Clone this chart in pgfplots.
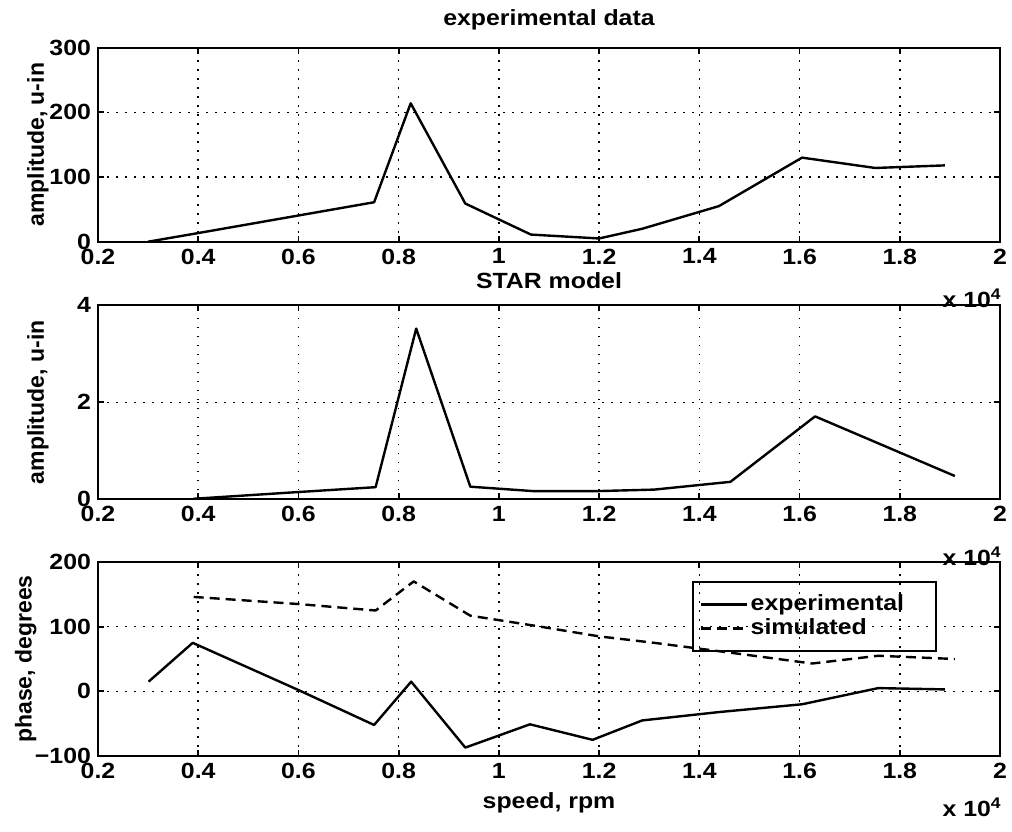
\documentclass[border=0pt]{standalone}
\usepackage{fontspec}
\setmainfont{Liberation Sans}[FakeStretch=1.13]
\newfontfamily\rotfont{Liberation Sans}
\usepackage{pgfplots}
\pgfplotsset{compat=1.18}
\newcommand{\ff}{\fontsize{11}{13}\selectfont\bfseries}
\newcommand{\rf}{\rotfont\fontsize{11.5}{13}\selectfont\bfseries}
\pgfplotsset{
  mat/.style={
    scale only axis, width=451pt, height=97pt,
    xmin=0.2, xmax=2,
    xtick={0.2,0.4,0.6,0.8,1,1.2,1.4,1.6,1.8,2},
    xticklabels={0.2,0.4,0.6,0.8,1,1.2,1.4,1.6,1.8,2},
    scaled x ticks=false, scaled y ticks=false,
    grid=major,
    major grid style={black, line width=0.8pt, dash pattern=on 0.8pt off 3.7pt},
    axis line style={black, line width=1pt},
    tick style={black, line width=0.9pt},
    major tick length=3pt,
    tick align=inside,
    font=\ff,
    tick label style={font=\ff},
    /pgf/number format/assume math mode=true,
    clip=false,
  },
  ln/.style={black, line width=1.2pt, line join=round, mark=none},
}
\begin{document}
\begin{tikzpicture}
\path[use as bounding box] (0,0) rectangle (506pt,415.5pt);
% ---------- top ----------
\begin{axis}[mat, at={(49pt,294.65pt)}, anchor=south west,
  ymin=0, ymax=300, ytick={0,100,200,300}]
\addplot[ln] coordinates {(0.30,0) (0.39,12) (0.751,61) (0.824,214) (0.933,59) (1.064,11) (1.2,5) (1.286,20) (1.439,55) (1.605,130) (1.751,114) (1.89,118)};
\node[anchor=base, yshift=11.25pt] at (axis description cs:0.5,1) {experimental data};
\node[rotate=90, anchor=center, font=\rf] at (axis description cs:-0.0665,0.5) {amplitude, u-in};
\node[anchor=base east, inner sep=0pt, yshift=-33pt, xshift=1pt] at (axis description cs:1,0) {x 10\textsuperscript{4}};
\end{axis}
% ---------- middle ----------
\begin{axis}[mat, at={(49pt,165.85pt)}, anchor=south west,
  ymin=0, ymax=4, ytick={0,2,4}]
\addplot[ln] coordinates {(0.39,0.01) (0.6,0.15) (0.754,0.25) (0.835,3.52) (0.943,0.26) (1.067,0.17) (1.2,0.17) (1.31,0.2) (1.462,0.36) (1.631,1.71) (1.91,0.48)};
\node[anchor=base, yshift=8.5pt] at (axis description cs:0.5,1) {STAR model};
\node[rotate=90, anchor=center, font=\rf] at (axis description cs:-0.0665,0.5) {amplitude, u-in};
\node[anchor=base east, inner sep=0pt, yshift=-33pt, xshift=1pt] at (axis description cs:1,0) {x 10\textsuperscript{4}};
\end{axis}
% ---------- bottom ----------
\begin{axis}[mat, at={(49pt,37.5pt)}, anchor=south west,
  ymin=-100, ymax=200, ytick={-100,0,100,200},
  yticklabels={−100,0,100,200},
  legend style={at={(axis description cs:0.659,0.902)}, anchor=north west,
    draw=black, fill=none, line width=0.9pt, font=\ff,
    inner xsep=3pt, inner ysep=5pt, row sep=-0.5pt,
    nodes={inner sep=1.5pt}},
  legend cell align=left,
  legend image code/.code={\draw[#1] (0pt,0pt) -- (23pt,0pt);}]
\addplot[ln] coordinates {(0.301,15) (0.389,75) (0.6,2) (0.751,-52) (0.825,15) (0.933,-87) (1.062,-51) (1.187,-75) (1.286,-45) (1.44,-32) (1.605,-20) (1.757,5) (1.89,3)};
\addplot[ln, dash pattern=on 5pt off 3pt] coordinates {(0.391,146) (0.6,135) (0.754,125) (0.83,170) (0.943,117) (1.067,102) (1.2,85) (1.31,75) (1.46,60) (1.625,43) (1.757,55) (1.91,50)};
\legend{\makebox[88pt][l]{experimental}, simulated}
\node[rotate=90, anchor=center, font=\rf] at (axis description cs:-0.080,0.5) {phase, degrees};
\node[anchor=base, yshift=-26pt] at (axis description cs:0.5,0) {speed, rpm};
\node[anchor=base east, inner sep=0pt, yshift=-30pt, xshift=1pt] at (axis description cs:1,0) {x 10\textsuperscript{4}};
\end{axis}
\end{tikzpicture}
\end{document}
